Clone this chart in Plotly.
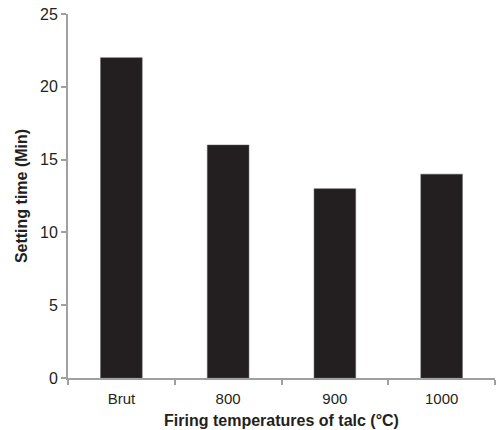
import plotly.graph_objects as go

categories = ["Brut", "800", "900", "1000"]
setting_time = [22, 16, 13, 14]
y_ticks = [0, 5, 10, 15, 20, 25]

fig = go.Figure(go.Bar(
    x=categories, y=setting_time,
    marker=dict(color="#231f20", line=dict(color="#555555", width=0.5)),
    width=0.39,
))

axis_col = "#a0a0a0"
fig.update_layout(
    width=500, height=430,
    margin=dict(l=68, r=5, t=14, b=52, autoexpand=False),
    paper_bgcolor="white", plot_bgcolor="white",
    font=dict(family="Liberation Sans, Arial, sans-serif", color="#231f20", size=15),
    showlegend=False,
)
fig.update_xaxes(
    showline=True, linecolor=axis_col, linewidth=2,
    ticks="outside", tickson="boundaries", ticklen=5, tickcolor=axis_col, tickwidth=1.5,
    tickfont=dict(size=15), ticklabelstandoff=6, automargin=False,
    title=dict(text="<b>Firing temperatures of talc (°C)</b>", font=dict(size=16), standoff=9),
    showgrid=False,
)
fig.update_yaxes(
    range=[0, 25], tickvals=y_ticks,
    showline=True, linecolor=axis_col, linewidth=2,
    ticks="outside", ticklen=5, tickcolor=axis_col, tickwidth=1.5,
    tickfont=dict(size=16), ticklabeloverflow="allow", automargin=False,
    title=dict(text="<b>Setting time (Min)</b>", font=dict(size=16), standoff=8),
    showgrid=False, zeroline=False,
)
fig.write_html("out.html", config={"displayModeBar": False},
               post_script="document.body.style.margin='0';")
